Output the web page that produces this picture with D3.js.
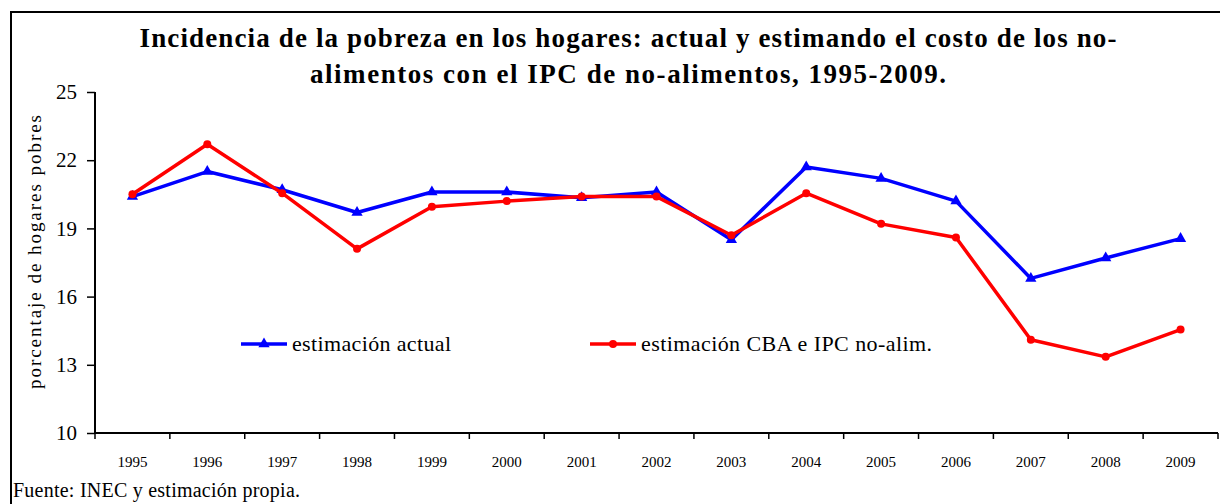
<!DOCTYPE html>
<html>
<head>
<meta charset="utf-8">
<script src="https://cdn.jsdelivr.net/npm/d3@7"></script>
<style>
  body { margin: 0; background: #fff; }
  svg text { font-family: "Liberation Serif", "Times New Roman", serif; }
</style>
</head>
<body>
<div id="chart"></div>
<script>
// datos del grafico
const years = ["1995", "1996", "1997", "1998", "1999", "2000", "2001", "2002",
               "2003", "2004", "2005", "2006", "2007", "2008", "2009"];
const actual = [20.4, 21.5, 20.7, 19.7, 20.6, 20.6, 20.35, 20.6, 18.5, 21.7, 21.2, 20.2, 16.8, 17.7, 18.55];
const cbaIpc = [20.5, 22.7, 20.55, 18.1, 19.95, 20.2, 20.4, 20.4, 18.7, 20.55, 19.2, 18.6, 14.1, 13.35, 14.55];
const yTicks = [10, 13, 16, 19, 22, 25];
const seriesNames = ["estimación actual", "estimación CBA e IPC no-alim."];
const titleLines = [
  "Incidencia de la pobreza en los hogares: actual y estimando el costo de los no-",
  "alimentos con el IPC de no-alimentos, 1995-2009."
];

const W = 1220, H = 504;
const margin = { top: 92, right: 2, bottom: 71, left: 95 };
const width = W - margin.left - margin.right;
const height = H - margin.top - margin.bottom;
const serif = "Liberation Serif";

const svg = d3.select("#chart").append("svg")
  .attr("width", W)
  .attr("height", H);

// marco exterior
svg.append("rect")
  .attr("x", 11).attr("y", 12)
  .attr("width", W + 10).attr("height", H + 10)
  .attr("fill", "none")
  .attr("stroke", "#000")
  .attr("stroke-width", 2);

// titulo (ancho ajustado al original)
const titleWidths = [977, 636];
svg.append("g").selectAll("text")
  .data(titleLines)
  .enter().append("text")
  .attr("x", (d, i) => 628 - titleWidths[i] / 2)
  .attr("y", (d, i) => 47 + i * 36)
  .attr("font-family", serif)
  .attr("font-weight", "bold")
  .attr("font-size", 27)
  .attr("textLength", (d, i) => titleWidths[i])
  .attr("lengthAdjust", "spacing")
  .text(d => d);

const g = svg.append("g").attr("transform", `translate(${margin.left},${margin.top})`);

const x = d3.scaleBand().domain(years).range([0, width]).padding(0);
const y = d3.scaleLinear().domain([10, 25]).range([height, 0]);

// eje y
const yAxis = g.append("g")
  .call(d3.axisLeft(y).tickValues(yTicks).tickSize(8).tickPadding(10).tickFormat(d3.format("d")));
yAxis.select(".domain").attr("stroke-width", 2).attr("d", `M0,0V${height}`);
yAxis.selectAll(".tick line").attr("stroke-width", 1.5);
yAxis.selectAll("text").attr("font-size", 21).attr("font-family", serif).attr("fill", "#000");

// eje x con marcas entre categorias
const xAxis = g.append("g").attr("transform", `translate(0,${height})`);
xAxis.append("line")
  .attr("x1", 0).attr("x2", width)
  .attr("stroke", "#000").attr("stroke-width", 2);
xAxis.selectAll(".xtick")
  .data(years.concat(["end"]))
  .enter().append("line")
  .attr("x1", (d, i) => i < years.length ? x(d) : width)
  .attr("x2", (d, i) => i < years.length ? x(d) : width)
  .attr("y1", 0).attr("y2", 6)
  .attr("stroke", "#000").attr("stroke-width", 1.5);
xAxis.selectAll(".xlabel")
  .data(years)
  .enter().append("text")
  .attr("x", d => x(d) + x.bandwidth() / 2)
  .attr("y", 34)
  .attr("text-anchor", "middle")
  .attr("font-family", serif)
  .attr("font-size", 15)
  .text(d => d);

// etiqueta eje y
svg.append("text")
  .attr("transform", `translate(41,${252 + 137}) rotate(-90)`)
  .attr("font-family", serif)
  .attr("font-size", 19)
  .attr("textLength", 274)
  .attr("lengthAdjust", "spacing")
  .text("porcentaje de hogares pobres");

const cx = d => x(d) + x.bandwidth() / 2;
const line = d3.line().x(d => cx(d[0])).y(d => y(d[1]));

const blue = "#0000ff", red = "#ff0000";
const tri = d3.symbol().type(d3.symbolTriangle).size(55);

function drawSeries(values, color, marker) {
  const pts = years.map((yr, i) => [yr, values[i]]);
  g.append("path")
    .datum(pts)
    .attr("fill", "none")
    .attr("stroke", color)
    .attr("stroke-width", 3.5)
    .attr("stroke-linejoin", "round")
    .attr("d", line);
  if (marker === "tri") {
    g.append("g").selectAll("path")
      .data(pts).enter().append("path")
      .attr("d", tri)
      .attr("transform", d => `translate(${cx(d[0])},${y(d[1])})`)
      .attr("fill", color);
  } else {
    g.append("g").selectAll("circle")
      .data(pts).enter().append("circle")
      .attr("cx", d => cx(d[0]))
      .attr("cy", d => y(d[1]))
      .attr("r", 4)
      .attr("fill", color);
  }
}
drawSeries(actual, blue, "tri");
drawSeries(cbaIpc, red, "dot");

// leyenda
const legend = svg.append("g");
const legItems = [
  { name: seriesNames[0], color: blue, marker: "tri", x: 241, w: 159 },
  { name: seriesNames[1], color: red, marker: "dot", x: 590, w: 291 }
];
legItems.forEach(it => {
  const lg = legend.append("g").attr("transform", `translate(${it.x},344)`);
  lg.append("line").attr("x1", 0).attr("x2", 46)
    .attr("stroke", it.color).attr("stroke-width", 3.5);
  if (it.marker === "tri") {
    lg.append("path").attr("d", tri).attr("transform", "translate(23,0)").attr("fill", it.color);
  } else {
    lg.append("circle").attr("cx", 23).attr("r", 4).attr("fill", it.color);
  }
  lg.append("text").attr("x", 51).attr("y", 7)
    .attr("font-family", serif)
    .attr("font-size", 22)
    .attr("textLength", it.w)
    .attr("lengthAdjust", "spacing")
    .text(it.name);
});

// fuente
svg.append("text")
  .attr("x", 13).attr("y", 497)
  .attr("font-family", serif)
  .attr("font-size", 20)
  .attr("textLength", 287)
  .attr("lengthAdjust", "spacing")
  .text("Fuente: INEC y estimación propia.");
</script>
</body>
</html>
